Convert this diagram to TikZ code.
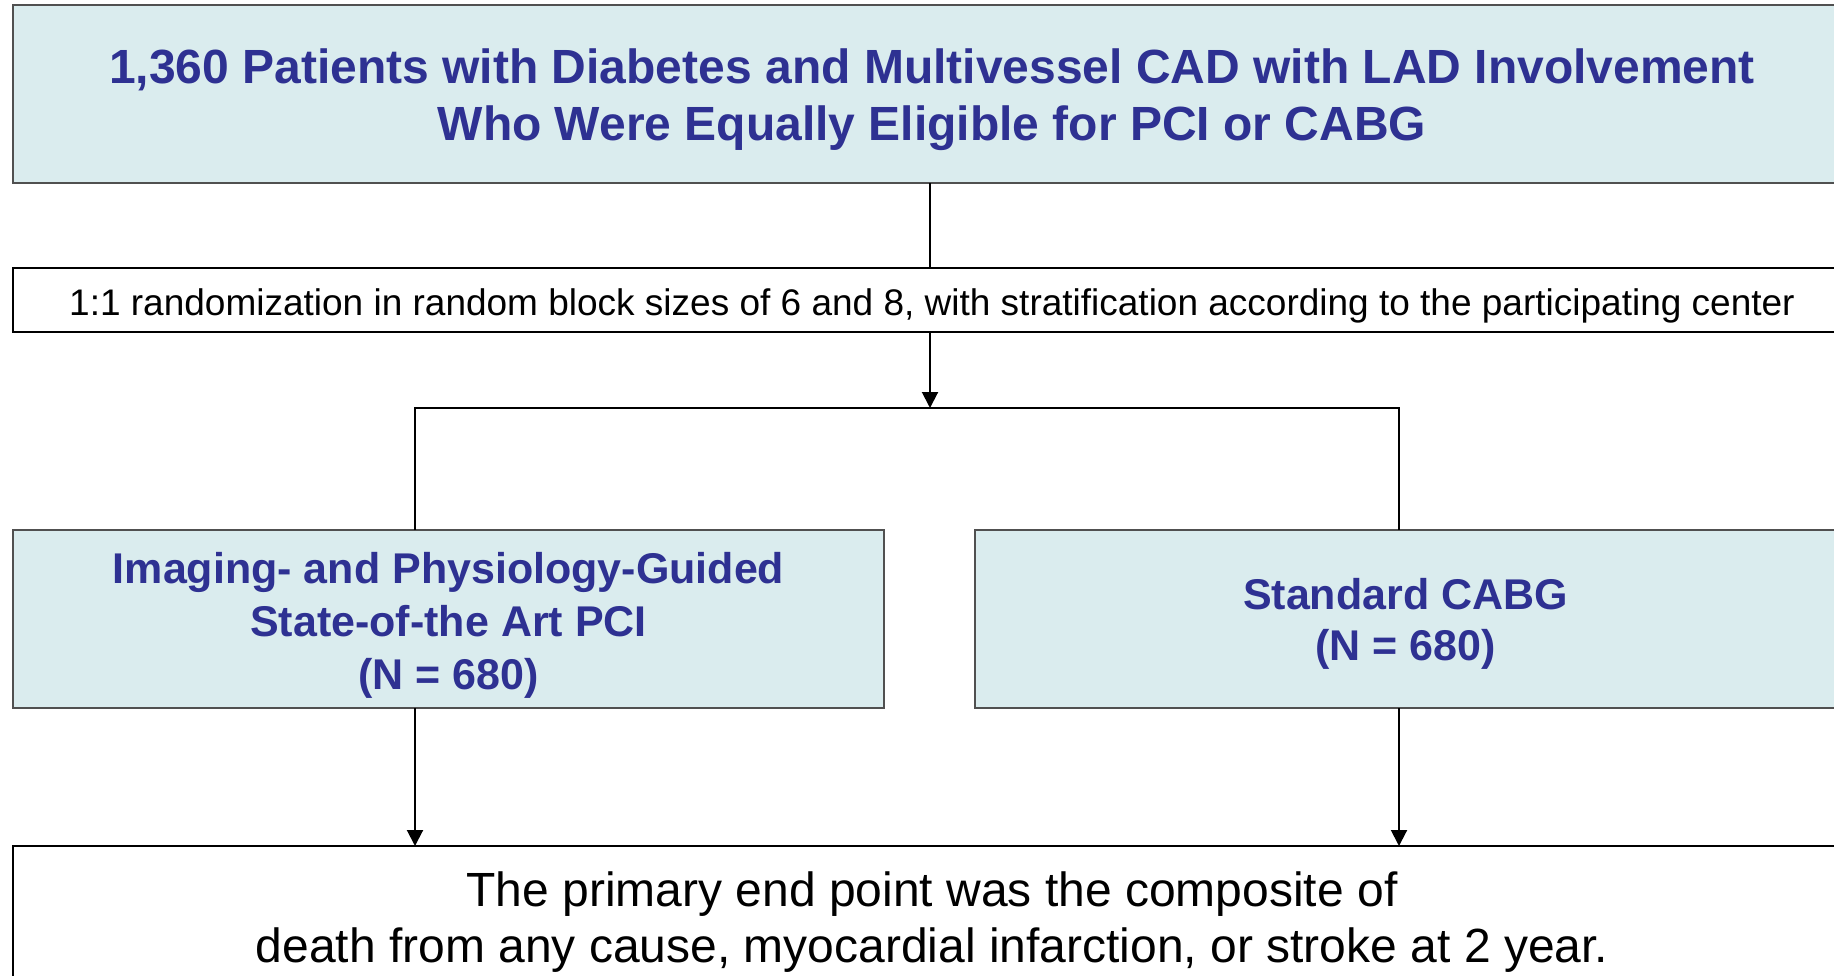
\documentclass[tikz,border=0pt]{standalone}
\usepackage{fontspec}
\setmainfont{Liberation Sans}
\usetikzlibrary{arrows.meta}
\definecolor{boxfill}{RGB}{218,236,238}
\definecolor{txtblue}{RGB}{46,49,146}
\definecolor{boxedge}{RGB}{80,80,80}
\tikzset{
  bluebox/.style={draw=boxedge, line width=1.5pt, fill=boxfill, anchor=north west, inner sep=0pt, outer sep=0pt},
  whitebox/.style={draw=black, line width=2pt, fill=white, anchor=north west, inner sep=0pt, outer sep=0pt},
  btxt/.style={text=txtblue, align=center, inner sep=0pt},
  wtxt/.style={text=black, align=center, inner sep=0pt},
  conn/.style={line width=2pt, draw=black},
  arr/.style={conn, -{Triangle[width=16pt,length=16pt]}}
}
\begin{document}
\begin{tikzpicture}[x=1pt,y=-1pt]
\useasboundingbox (0,0) rectangle (1834,975);
\clip (0,0) rectangle (1834,975);
\fill[white] (0,0) rectangle (1834,975);
\node[bluebox, minimum width=1838pt, minimum height=178pt,
  label={[btxt, yshift=-6pt, font=\bfseries\fontsize{48}{57}\selectfont]center:{1,360 Patients with Diabetes and Multivessel CAD with LAD Involvement\\Who Were Equally Eligible for PCI or CABG}}] (top) at (13,5) {};
\node[whitebox, minimum width=1838pt, minimum height=64pt,
  label={[wtxt, yshift=-6pt, font=\fontsize{37}{44}\selectfont]center:{1:1 randomization in random block sizes of 6 and 8, with stratification according to the participating center}}] (rand) at (13,268) {};
\node[bluebox, minimum width=871pt, minimum height=178pt,
  label={[btxt, yshift=-6pt, font=\bfseries\fontsize{43}{53}\selectfont]center:{Imaging- and Physiology-Guided\\State-of-the Art PCI\\(N = 680)}}] (left) at (13,530) {};
\node[bluebox, minimum width=861pt, minimum height=178pt,
  label={[btxt, yshift=-5pt, font=\bfseries\fontsize{43}{51}\selectfont]center:{Standard CABG\\(N = 680)}}] (right) at (975,530) {};
\node[whitebox, minimum width=1838pt, minimum height=150pt,
  label={[wtxt, yshift=-1pt, font=\fontsize{48}{56}\selectfont]center:{The primary end point was the composite of\\death from any cause, myocardial infarction, or stroke at 2 year.}}] (bottom) at (13,846) {};
\coordinate (j) at (930,408);
\coordinate (jl) at (415,408);
\coordinate (jr) at (1399,408);
\draw[conn] (j |- top.south) -- (j |- rand.north);
\draw[arr] (j |- rand.south) -- (j);
\draw[conn] (jl |- left.north) -- (jl) -- (jr) -- (jr |- right.north);
\draw[arr] (jl |- left.south) -- (jl |- bottom.north);
\draw[arr] (jr |- right.south) -- (jr |- bottom.north);
\end{tikzpicture}
\end{document}
